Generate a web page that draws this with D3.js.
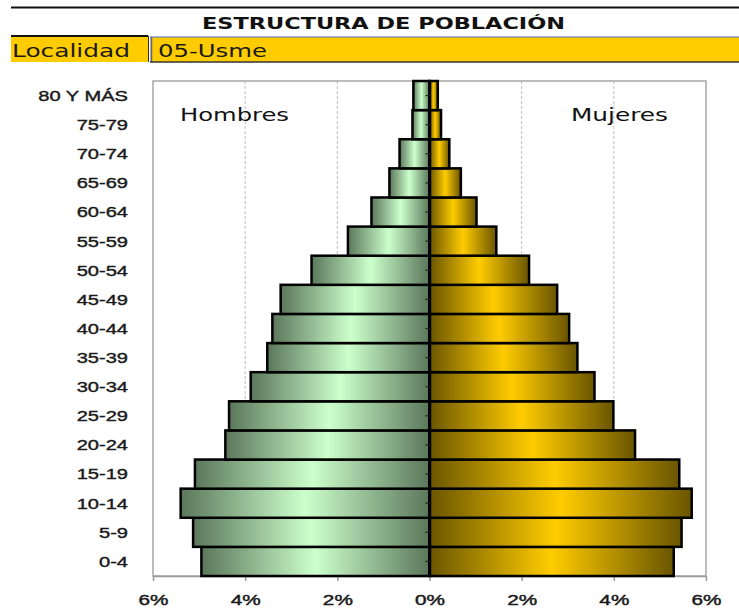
<!DOCTYPE html>
<html>
<head>
<meta charset="utf-8">
<script src="https://cdn.jsdelivr.net/npm/d3@7"></script>
<style>
  body { margin: 0; background: #fff; }
  svg { display: block; }
</style>
</head>
<body>
<div class="piramide"></div>
<script>
// estructura de poblacion - Usme
const ageGroups = ['0-4', '5-9', '10-14', '15-19', '20-24', '25-29', '30-34', '35-39',
                   '40-44', '45-49', '50-54', '55-59', '60-64', '65-69', '70-74', '75-79', '80 Y MÁS'];
const hombres = [4.95, 5.13, 5.40, 5.09, 4.43, 4.35, 3.88, 3.52, 3.41, 3.23, 2.56, 1.77, 1.26, 0.87, 0.65, 0.37, 0.35];
const mujeres = [5.30, 5.47, 5.69, 5.42, 4.46, 3.99, 3.58, 3.21, 3.03, 2.77, 2.16, 1.45, 1.02, 0.68, 0.43, 0.25, 0.18];
const xTicks = [-6, -4, -2, 0, 2, 4, 6];
const gridTicks = [-4, -2, 2, 4];

const W = 739, H = 608;
const plot = { left: 153, right: 706, top: 81, bottom: 576 };
const stretch = 1.34; // the original screenshot is wider than tall

const svg = d3.select('.piramide').append('svg')
    .attr('width', W)
    .attr('height', H);

// gradients (dark - light - dark, like excel)
const defs = svg.append('defs');
const grads = [
    { id: 'gradH', dark: '#5b775b', light: '#ccffcc' },
    { id: 'gradM', dark: '#6a5500', light: '#ffcc00' }
];
grads.forEach(g => {
    const lg = defs.append('linearGradient').attr('id', g.id)
        .attr('x1', '0%').attr('x2', '100%').attr('y1', '0%').attr('y2', '0%');
    lg.append('stop').attr('offset', '0%').attr('stop-color', g.dark);
    lg.append('stop').attr('offset', '50%').attr('stop-color', g.light);
    lg.append('stop').attr('offset', '100%').attr('stop-color', g.dark);
});

// header
svg.append('line')
    .attr('x1', 11).attr('x2', W).attr('y1', 7.5).attr('y2', 7.5)
    .attr('stroke', '#111').attr('stroke-width', 2);

svg.append('text')
    .text('ESTRUCTURA DE POBLACIÓN')
    .attr('x', 202).attr('y', 28.5)
    .attr('textLength', 363).attr('lengthAdjust', 'spacingAndGlyphs')
    .style('font', 'bold 16px "DejaVu Sans"')
    .attr('fill', '#111');

svg.append('rect')
    .attr('x', 11).attr('y', 36).attr('width', 138).attr('height', 26)
    .attr('fill', '#ffcc00');
svg.append('line')
    .attr('x1', 11).attr('x2', 148).attr('y1', 36).attr('y2', 36)
    .attr('stroke', '#111').attr('stroke-width', 2);
svg.append('line')
    .attr('x1', 148.5).attr('x2', 148.5).attr('y1', 36).attr('y2', 62)
    .attr('stroke', '#333').attr('stroke-width', 1);

svg.append('rect')
    .attr('x', 150).attr('y', 37).attr('width', W - 150).attr('height', 25)
    .attr('fill', '#ffcc00');
svg.append('line')
    .attr('x1', 150).attr('x2', W).attr('y1', 37).attr('y2', 37)
    .attr('stroke', '#4a66cc').attr('stroke-width', 1.2);
svg.append('line')
    .attr('x1', 151.5).attr('x2', 151.5).attr('y1', 37).attr('y2', 62)
    .attr('stroke', '#4a66cc').attr('stroke-width', 1.5);
svg.append('line')
    .attr('x1', 150).attr('x2', W).attr('y1', 62).attr('y2', 62)
    .attr('stroke', '#333').attr('stroke-width', 1.5);

svg.append('text')
    .text('Localidad')
    .attr('x', 12).attr('y', 57)
    .attr('textLength', 118).attr('lengthAdjust', 'spacingAndGlyphs')
    .style('font', '17.5px "DejaVu Sans"')
    .attr('fill', '#1a1a1a');
svg.append('text')
    .text('05-Usme')
    .attr('x', 158).attr('y', 57)
    .attr('textLength', 109).attr('lengthAdjust', 'spacingAndGlyphs')
    .style('font', '17.5px "DejaVu Sans"')
    .attr('fill', '#1a1a1a');

// scales
const xScale = d3.scaleLinear().domain([-6, 6]).range([plot.left, plot.right]);
const yScale = d3.scaleBand()
    .domain(ageGroups.slice().reverse())
    .range([plot.top, plot.bottom])
    .padding(0);

// gridlines
svg.append('g').selectAll('line')
    .data(gridTicks)
    .enter()
    .append('line')
    .attr('x1', d => xScale(d)).attr('x2', d => xScale(d))
    .attr('y1', plot.top).attr('y2', plot.bottom)
    .attr('stroke', '#bdbdbd')
    .attr('stroke-dasharray', '3,2');

// plot border
svg.append('rect')
    .attr('x', plot.left).attr('y', plot.top)
    .attr('width', plot.right - plot.left).attr('height', plot.bottom - plot.top)
    .attr('fill', 'none')
    .attr('stroke', '#a6a6a6')
    .attr('stroke-width', 1.5);

// x axis
const xAxis = d3.axisBottom(xScale)
    .tickValues(xTicks)
    .tickSize(5)
    .tickSizeOuter(0)
    .tickFormat(d => Math.abs(d) + '%');
const xAxis_group = svg.append('g')
    .attr('transform', `translate(0,${plot.bottom})`)
    .call(xAxis);
xAxis_group.select('.domain').attr('stroke', '#999').attr('stroke-width', 1.5);
xAxis_group.selectAll('.tick line').attr('stroke', '#999').attr('stroke-width', 1.5);
xAxis_group.selectAll('.tick text')
    .attr('y', 0).attr('dy', 0)
    .attr('transform', `translate(0,28.5) scale(${stretch},1)`)
    .attr('fill', '#1a1a1a')
    .attr('stroke', '#1a1a1a').attr('stroke-width', 0.45)
    .style('font', '15.5px "Liberation Sans"');

// age labels
const yLabels = svg.append('g')
    .attr('transform', 'translate(128,0)')
    .call(d3.axisLeft(yScale).tickSize(0).tickPadding(0));
yLabels.select('.domain').remove();
yLabels.selectAll('.tick text')
    .attr('x', 0)
    .attr('dy', '0.36em')
    .attr('transform', `scale(${stretch},1)`)
    .attr('fill', '#1a1a1a')
    .attr('stroke', '#1a1a1a').attr('stroke-width', 0.4)
    .style('font', '15px "Liberation Sans"');

// bars
const rows = ageGroups.map((g, i) => ({ group: g, h: hombres[i], m: mujeres[i] }));

svg.append('g').selectAll('rect')
    .data(rows, d => d.group)
    .enter()
    .append('rect')
    .attr('x', d => xScale(-d.h))
    .attr('y', d => yScale(d.group))
    .attr('width', d => xScale(0) - xScale(-d.h))
    .attr('height', yScale.bandwidth())
    .attr('fill', 'url(#gradH)')
    .attr('stroke', '#000')
    .attr('stroke-width', 2.5);

svg.append('g').selectAll('rect')
    .data(rows, d => d.group)
    .enter()
    .append('rect')
    .attr('x', xScale(0))
    .attr('y', d => yScale(d.group))
    .attr('width', d => xScale(d.m) - xScale(0))
    .attr('height', yScale.bandwidth())
    .attr('fill', 'url(#gradM)')
    .attr('stroke', '#000')
    .attr('stroke-width', 2.5);

// center axis with small ticks
const center = svg.append('g')
    .attr('transform', `translate(${xScale(0)},0)`)
    .call(d3.axisLeft(yScale).tickSize(4).tickSizeOuter(0).tickFormat(''));
center.select('.domain').attr('stroke', '#000').attr('stroke-width', 2.5);
center.selectAll('.tick line').attr('stroke', '#222').attr('stroke-width', 1.2);

// series labels
svg.append('text')
    .text('Hombres')
    .attr('x', 180).attr('y', 121)
    .attr('textLength', 109).attr('lengthAdjust', 'spacingAndGlyphs')
    .style('font', '17px "DejaVu Sans"')
    .attr('fill', '#111');
svg.append('text')
    .text('Mujeres')
    .attr('x', 571).attr('y', 121)
    .attr('textLength', 97).attr('lengthAdjust', 'spacingAndGlyphs')
    .style('font', '17px "DejaVu Sans"')
    .attr('fill', '#111');
</script>
</body>
</html>
